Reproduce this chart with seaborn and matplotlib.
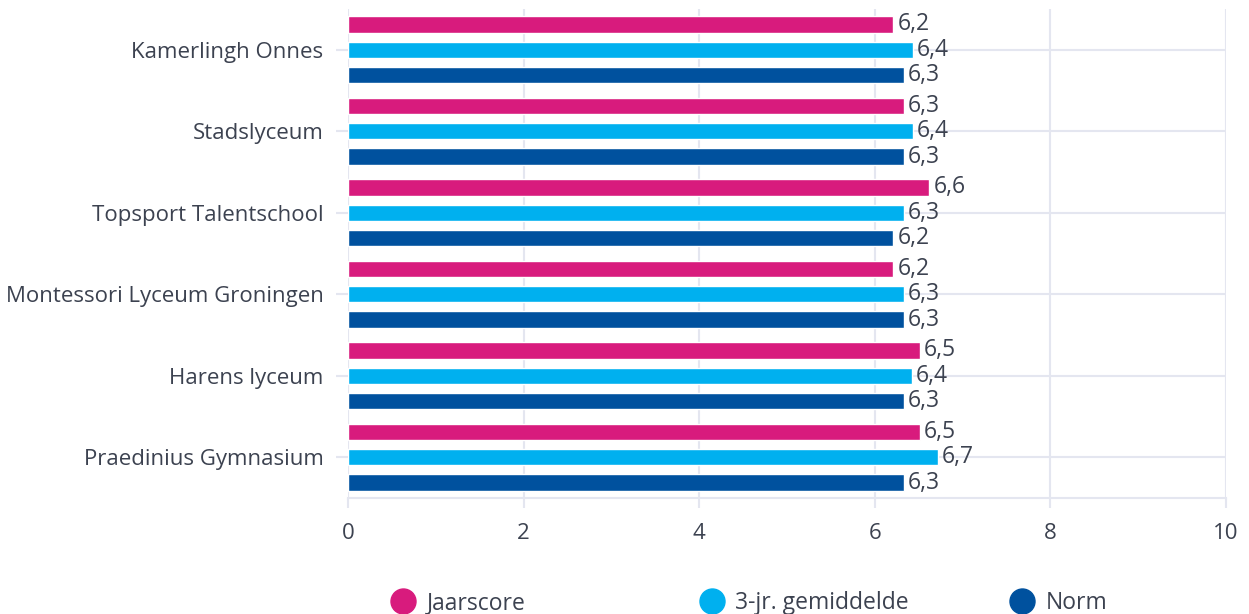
import pandas as pd
import matplotlib.pyplot as plt
from matplotlib.lines import Line2D
import seaborn as sns

# Data
scholen = ["Kamerlingh Onnes", "Stadslyceum", "Topsport Talentschool",
           "Montessori Lyceum Groningen", "Harens lyceum", "Praedinius Gymnasium"]
reeksen = ["Jaarscore", "3-jr. gemiddelde", "Norm"]
jaarscore = [6.21, 6.33, 6.62, 6.21, 6.51, 6.51]
gemiddelde = [6.43, 6.43, 6.33, 6.33, 6.42, 6.72]
norm = [6.33, 6.33, 6.21, 6.33, 6.33, 6.33]
kleuren = ["#d81b7d", "#00b0ef", "#00519e"]

tekst = "#3c4250"
raster = "#e4e6f0"

df = pd.DataFrame({
    "school": scholen * 3,
    "reeks": [r for r in reeksen for _ in scholen],
    "score": jaarscore + gemiddelde + norm,
})

sns.set_theme(style="white")
plt.rcParams["font.family"] = ["Open Sans", "DejaVu Sans"]

fig = plt.figure(figsize=(12.49, 6.14), dpi=100)
ax = fig.add_axes([348 / 1249, 1 - 498 / 614, 878 / 1249, 489 / 614])

sns.barplot(data=df, y="school", x="score", hue="reeks", hue_order=reeksen,
            order=scholen, orient="h", palette=kleuren, saturation=1,
            width=0.93, gap=0.365, legend=False, ax=ax, zorder=3)

# value labels with Dutch decimal comma
for cont in ax.containers:
    labels = [f"{v:.1f}".replace(".", ",") for v in cont.datavalues]
    ax.bar_label(cont, labels=labels, padding=3, fontsize=16.5, color=tekst)

ax.set_xlim(0, 10)
ax.set_ylim(5.5, -0.5)
ax.set_xticks([0, 2, 4, 6, 8, 10])
ax.set_xlabel("")
ax.set_ylabel("")
ax.grid(True, axis="both", color=raster, linewidth=1.5, zorder=0)
ax.set_axisbelow(True)
for side in ["top", "right", "left"]:
    ax.spines[side].set_visible(False)
ax.spines["bottom"].set_color(raster)
ax.spines["bottom"].set_linewidth(1.5)
ax.tick_params(axis="x", length=7, width=1.5, color=raster, labelsize=16,
               labelcolor=tekst, pad=11, bottom=True)
ax.tick_params(axis="y", length=8.6, width=1.5, color=raster, labelsize=16,
               labelcolor=tekst, pad=9, left=True)

# legend: one entry per series at fixed spacing
posities = [403, 712, 1022]
for naam, kleur, px in zip(reeksen, kleuren, posities):
    h = Line2D([], [], marker="o", linestyle="", markersize=18,
               markerfacecolor=kleur, markeredgecolor=kleur)
    fig.legend([h], [naam], loc="center left", frameon=False,
               bbox_to_anchor=((px - 13.5) / 1249, 1 - 603 / 614),
               fontsize=16.5, labelcolor=tekst, handlelength=1.2 * 16 / 16.5,
               handletextpad=0.45, borderpad=0, borderaxespad=0)

fig.savefig("out.png", dpi=100)
